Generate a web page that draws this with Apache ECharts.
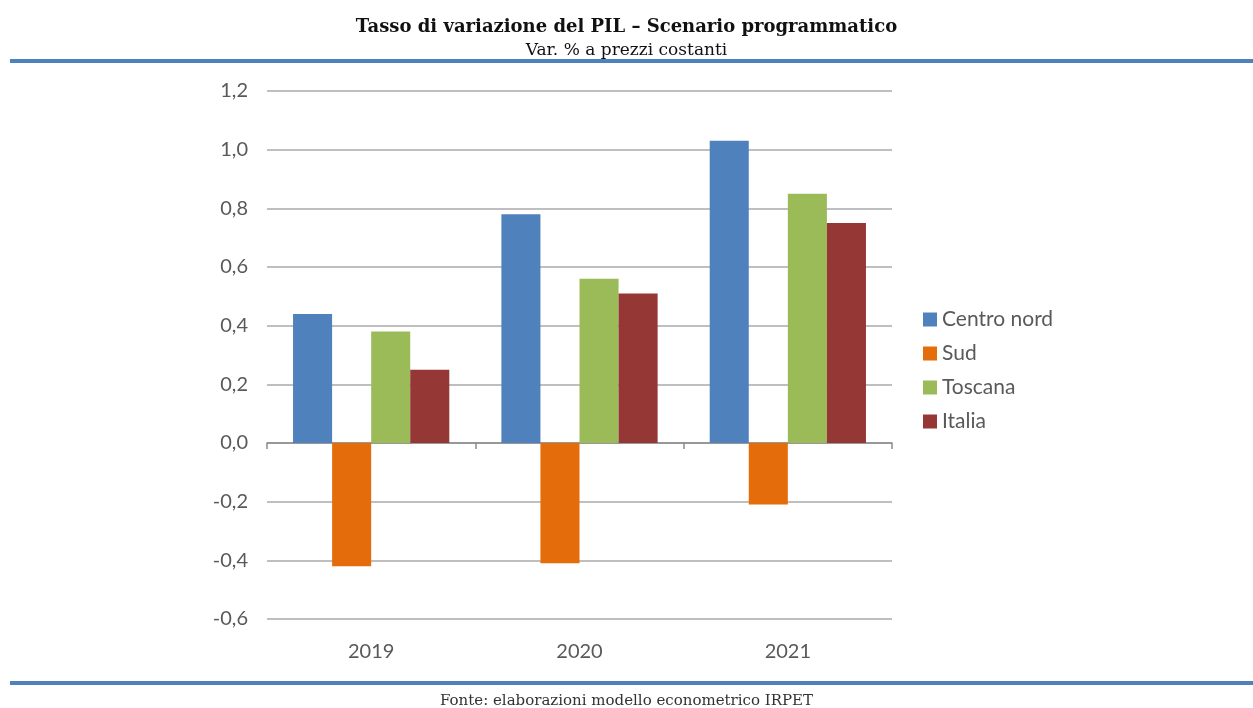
<!DOCTYPE html>
<html>
<head>
<meta charset="utf-8">
<script src="https://cdn.jsdelivr.net/npm/echarts@6/dist/echarts.min.js"></script>
<style>
  html, body { margin: 0; padding: 0; background: #fff; }
  #chart { width: 1253px; height: 708px; }
</style>
</head>
<body>
<div id="chart"></div>
<script>
// dati
const years = ['2019', '2020', '2021'];
const centroNord = [0.44, 0.78, 1.03];
const sud = [-0.42, -0.41, -0.21];
const toscana = [0.38, 0.56, 0.85];
const italia = [0.25, 0.51, 0.75];
const yTicks = { min: -0.6, max: 1.2, step: 0.2 };

const labelColor = '#595959';
const sans = 'Lato, "Open Sans", sans-serif';
const serif = '"DejaVu Serif", "Liberation Serif", serif';

function barSeries(name, data, color){
  return {
    name: name,
    type: 'bar',
    data: data,
    xAxisIndex: 0,
    barGap: '0%',
    barCategoryGap: '25%',
    itemStyle: { color: color }
  };
}

let myChart = echarts.init(document.getElementById('chart'));
let option = {
  animation: false,
  backgroundColor: '#fff',
  title: [
    {
      text: 'Tasso di variazione del PIL – Scenario programmatico',
      left: 'center', top: 13,
      textStyle: { fontFamily: serif, fontSize: 18, fontWeight: 'bold', color: '#111' }
    },
    {
      text: 'Var. % a prezzi costanti',
      left: 'center', top: 37,
      textStyle: { fontFamily: serif, fontSize: 17, fontWeight: 'normal', color: '#111' }
    },
    {
      text: 'Fonte: elaborazioni modello econometrico IRPET',
      left: 'center', top: 689,
      textStyle: { fontFamily: serif, fontSize: 15, fontWeight: 'normal', color: '#333' }
    }
  ],
  graphic: [
    { type: 'rect', shape: { x: 10, y: 59, width: 1243, height: 4 }, style: { fill: '#4f81bd' } },
    { type: 'rect', shape: { x: 10, y: 681, width: 1243, height: 4 }, style: { fill: '#4f81bd' } }
  ],
  legend: {
    orient: 'vertical',
    left: 918, top: 304,
    itemWidth: 14, itemHeight: 14,
    itemGap: 13,
    icon: 'rect',
    textStyle: { fontFamily: sans, fontSize: 21, color: labelColor },
    data: ['Centro nord', 'Sud', 'Toscana', 'Italia']
  },
  grid: { left: 267, right: 361, top: 91, bottom: 89 },
  xAxis: [
    {
      type: 'category',
      data: years,
      axisLine: { onZero: true, lineStyle: { color: '#8c8c8c', width: 1.5 } },
      axisTick: { show: true, length: 6, lineStyle: { color: '#8c8c8c', width: 1.5 } },
      axisLabel: { show: false }
    },
    {
      type: 'category',
      data: years,
      position: 'bottom',
      axisLine: { show: false },
      axisTick: { show: false },
      axisLabel: { margin: 23, fontFamily: sans, fontSize: 20, color: labelColor }
    }
  ],
  yAxis: {
    type: 'value',
    min: yTicks.min,
    max: yTicks.max,
    interval: yTicks.step,
    axisLine: { show: false },
    axisTick: { show: false },
    axisLabel: {
      margin: 19,
      fontFamily: sans, fontSize: 20, color: labelColor,
      formatter: function(v){ return v.toFixed(1).replace('.', ','); }
    },
    splitLine: { lineStyle: { color: '#bfbfbf', width: 2 } }
  },
  series: [
    barSeries('Centro nord', centroNord, '#4f81bd'),
    barSeries('Sud', sud, '#e46c0a'),
    barSeries('Toscana', toscana, '#9bbb59'),
    barSeries('Italia', italia, '#953735')
  ]
};
myChart.setOption(option);
</script>
</body>
</html>
